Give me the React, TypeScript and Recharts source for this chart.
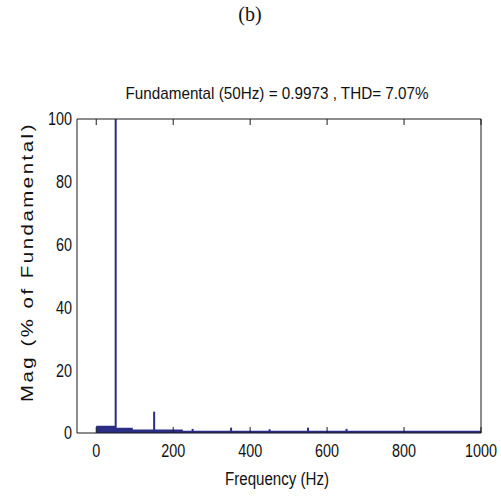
import { Area, Bar, ComposedChart, XAxis, YAxis } from 'recharts';

// FFT spectrum: broadband floor (step levels) + harmonic lines
const freqHz = [0, 50, 95, 150, 225, 250, 350, 450, 550, 650, 1000];
const floorPct = [2.3, 1.7, 1.1, 1.1, 0.7, 0.7, 0.7, 0.7, 0.7, 0.7, 0.7];
const harmonicPct = [null, 100, null, 6.8, null, 1.3, 1.7, 1.2, 1.7, 1.3, null];

const xTicks = [0, 200, 400, 600, 800, 1000];
const yTicks = [0, 20, 40, 60, 80, 100];

const titleText = 'Fundamental (50Hz) = 0.9973 , THD= 7.07%';
const panelText = '(b)';
const xLabelText = 'Frequency (Hz)';
const yLabelText = 'Mag (% of Fundamental)';

const data = freqHz.map((f, i) => ({
	f,
	floor: floorPct[i],
	harmonic: harmonicPct[i]
}));

const barColor = '#2b2d84';
const axisColor = '#1a1a1a';
const sansFont = '"Liberation Sans", Arial, sans-serif';

// the figure's text is horizontally condensed; squeeze glyphs to ~8px per digit
function NarrowTick({ x, y, payload, textAnchor, verticalAnchor }: any) {
	const label = String(payload.value);
	const dy = verticalAnchor === 'start' ? '0.71em' : '0.355em';
	return (
		<text
			x={x}
			y={y}
			dy={dy}
			textAnchor={textAnchor}
			fill="#111"
			fontSize={18}
			fontFamily={sansFont}
			textLength={label.length * 8}
			lengthAdjust="spacingAndGlyphs"
		>
			{label}
		</text>
	);
}

function NoTick() {
	return <g />;
}

function YLabel({ viewBox }: any) {
	const x = viewBox.x + 33;
	const y = viewBox.y + viewBox.height / 2 - 14;
	return (
		<text
			x={x}
			y={y}
			transform={`rotate(-90 ${x} ${y})`}
			textAnchor="middle"
			fill="#111"
			fontSize={16}
			letterSpacing={2}
			fontFamily={sansFont}
			textLength={280}
			lengthAdjust="spacingAndGlyphs"
		>
			{yLabelText}
		</text>
	);
}

function XLabel({ viewBox }: any) {
	return (
		<text
			x={viewBox.x + viewBox.width / 2 - 2}
			y={viewBox.y + 52}
			textAnchor="middle"
			fill="#111"
			fontSize={18}
			fontFamily={sansFont}
			textLength={104}
			lengthAdjust="spacingAndGlyphs"
		>
			{xLabelText}
		</text>
	);
}

export default function App() {
	return (
		<div
			style={{
				position: 'absolute',
				left: 0,
				top: 0,
				width: 501,
				height: 496,
				background: '#fff'
			}}
		>
			<ComposedChart
				width={501}
				height={496}
				data={data}
				margin={{ top: 119, right: 20, bottom: 0, left: 0 }}
			>
				<XAxis
					xAxisId="x"
					dataKey="f"
					type="number"
					domain={[-50, 1000]}
					allowDataOverflow
					ticks={xTicks}
					height={63}
					tickLine={false}
					tickSize={0}
					tickMargin={11}
					axisLine={{ stroke: axisColor }}
					tick={<NarrowTick />}
					label={<XLabel />}
				/>
				<XAxis
					xAxisId="xin"
					dataKey="f"
					type="number"
					domain={[-50, 1000]}
					allowDataOverflow
					ticks={xTicks}
					mirror
					height={6}
					tick={<NoTick />}
					tickSize={6}
					axisLine={false}
					tickLine={{ stroke: axisColor }}
				/>
				<XAxis
					xAxisId="xtop"
					orientation="top"
					dataKey="f"
					type="number"
					domain={[-50, 1000]}
					allowDataOverflow
					ticks={xTicks}
					mirror
					height={6}
					tick={<NoTick />}
					tickSize={6}
					axisLine={{ stroke: axisColor }}
					tickLine={{ stroke: axisColor }}
				/>
				<YAxis
					yAxisId="y"
					type="number"
					domain={[0, 100]}
					ticks={yTicks}
					width={77}
					tickLine={false}
					tickSize={0}
					tickMargin={5}
					axisLine={{ stroke: axisColor }}
					tick={<NarrowTick />}
					label={<YLabel />}
				/>
				<YAxis
					yAxisId="yin"
					type="number"
					domain={[0, 100]}
					ticks={yTicks}
					mirror
					width={6}
					tick={<NoTick />}
					tickSize={6}
					axisLine={false}
					tickLine={{ stroke: axisColor }}
				/>
				<YAxis
					yAxisId="yright"
					orientation="right"
					type="number"
					domain={[0, 100]}
					ticks={yTicks}
					mirror
					width={6}
					tick={<NoTick />}
					tickSize={6}
					axisLine={{ stroke: axisColor }}
					tickLine={{ stroke: axisColor }}
				/>
				<Area
					xAxisId="x"
					yAxisId="y"
					type="stepAfter"
					dataKey="floor"
					fill={barColor}
					fillOpacity={1}
					stroke="none"
					isAnimationActive={false}
				/>
				<Bar
					xAxisId="x"
					yAxisId="y"
					dataKey="harmonic"
					fill={barColor}
					barSize={2}
					isAnimationActive={false}
				/>
			</ComposedChart>
			<svg
				width={501}
				height={496}
				style={{ position: 'absolute', left: 0, top: 0, pointerEvents: 'none' }}
			>
				<text
					x={250}
					y={21}
					textAnchor="middle"
					fontSize={20}
					fontFamily='"Liberation Serif", "Times New Roman", serif'
					fill="#111"
				>
					{panelText}
				</text>
				<text
					x={277}
					y={99}
					textAnchor="middle"
					fontSize={17}
					fontFamily={sansFont}
					fill="#111"
					textLength={303}
					lengthAdjust="spacingAndGlyphs"
				>
					{titleText}
				</text>
			</svg>
		</div>
	);
}
